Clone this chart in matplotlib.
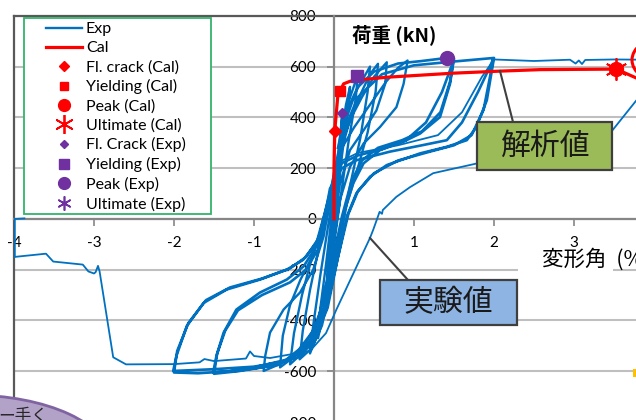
import matplotlib
matplotlib.use("Agg")
import matplotlib.pyplot as plt
from matplotlib.lines import Line2D
from matplotlib.patches import Rectangle, Ellipse

plt.rcParams['font.family'] = ['Lato', 'Noto Sans CJK JP', 'DejaVu Sans']

# ---------------- data ----------------
x_ticks = [-4, -3, -2, -1, 0, 1, 2, 3]
x_tick_labels = ["-4", "-3", "-2", "-1", "0", "1", "2", "3"]
y_ticks = [-800, -600, -400, -200, 0, 200, 400, 600, 800]
y_tick_labels = ["-800", "-600", "-400", "-200", "0", "200", "400", "600", "800"]

# Exp: small cycles
exp_small_x = [0, 0.03, 0.06, 0.1, 0.08, 0.04, 0.0, -0.05, -0.1, -0.08, -0.03, 0,
               0.05, 0.1, 0.15, 0.2, 0.17, 0.1, 0.03, -0.03, -0.1, -0.2, -0.17, -0.1, -0.04,
               0.03, 0.1, 0.18, 0.3, 0.27, 0.18, 0.08, 0, -0.1, -0.2, -0.3, -0.26, -0.17, -0.08,
               0.0, 0.08, 0.16, 0.28, 0.45, 0.42, 0.33, 0.2, 0.08, -0.05, -0.15, -0.28, -0.43, -0.39, -0.3, -0.2, -0.1,
               0.0, 0.1, 0.2, 0.33, 0.45, 0.55, 0.52, 0.42, 0.28, 0.12, 0.0, -0.12, -0.3, -0.55, -0.5, -0.4, -0.3, -0.18, -0.1,
               0.0, 0.1, 0.2, 0.35, 0.5, 0.66, 0.64, 0.53, 0.37, 0.2, 0.075, 0.0, -0.08, -0.2, -0.4, -0.675, -0.64, -0.55, -0.42, -0.26, -0.12,
               0.0, 0.1, 0.25, 0.45, 0.65, 0.8, 0.92, 0.87, 0.78, 0.575, 0.37, 0.2, 0.075, 0.0, -0.1, -0.26, -0.5, -0.7, -0.88, -0.86, -0.8, -0.63, -0.425, -0.26, -0.13, -0.06]
exp_small_y = [0, 150, 280, 400, 300, 100, -100, -250, -330, -200, -50, 20,
               200, 350, 450, 520, 420, 250, 50, -150, -330, -470, -350, -180, -20,
               150, 330, 460, 570, 470, 300, 80, -100, -320, -450, -530, -420, -220, -40,
               120, 280, 400, 506, 600, 500, 320, 130, -80, -280, -420, -510, -553, -440, -280, -130, 0,
               130, 280, 390, 490, 570, 611, 500, 340, 180, 20, -160, -360, -500, -573, -450, -300, -180, -60, 40,
               160, 300, 390, 480, 560, 617, 532, 427, 349, 271, 140, -20, -230, -400, -520, -585, -460, -340, -240, -140, 20,
               170, 280, 360, 450, 540, 595, 624, 532, 440, 362, 297, 205, 75, -80, -300, -440, -540, -575, -599, -540, -448, -357, -290, -200, -69, 60]

# Exp: large cycles (1.5 % and 2.0 %)
exp_large_x = [0.05, 0.15, 0.3, 0.5, 0.8, 1.1, 1.41, 1.5, 1.45, 1.325, 1.075, 0.86, 0.575, 0.37, 0.24, 0.11, 0.0, -0.1, -0.3, -0.6, -1.0, -1.3, -1.51, -1.47, -1.38, -1.22, -0.925, -0.59, -0.38, -0.22, -0.11,
               0.0, 0.1, 0.3, 0.6, 0.9, 1.15, 1.35, 1.49, 1.45, 1.33, 1.1, 0.85, 0.55, 0.35, 0.22, 0.1, -0.02, -0.15, -0.4, -0.8, -1.2, -1.5, -1.46, -1.36, -1.2, -0.9, -0.55, -0.35, -0.2, -0.1,
               0.0, 0.1, 0.3, 0.6, 1.0, 1.5, 2.0, 1.91, 1.78, 1.66, 1.41, 1.075, 0.66, 0.45, 0.28, 0.16, 0.05, -0.08, -0.25, -0.6, -1.0, -1.5, -2.01, -1.97, -1.84, -1.63, -1.34, -0.925, -0.59, -0.385, -0.22, -0.13,
               -0.05, 0.1, 0.28, 0.7, 1.1, 1.41, 1.6, 1.8, 1.95, 1.99, 1.95, 1.87, 1.72, 1.5, 1.2, 0.8, 0.5, 0.3, 0.18, 0.05, -0.1, -0.3, -0.7, -1.2, -1.7, -2.0, -1.96, -1.82, -1.6, -1.3, -0.9, -0.55, -0.35, -0.2, -0.1]
exp_large_y = [280, 420, 520, 580, 612, 622, 634, 631, 532, 401, 336, 303, 271, 219, 140, 8, -180, -330, -480, -555, -585, -600, -605, -540, -448, -357, -290, -239, -187, -108, -4,
               150, 220, 250, 275, 310, 380, 500, 620, 540, 420, 345, 310, 280, 230, 150, 10, -170, -400, -540, -580, -600, -610, -530, -440, -360, -300, -250, -200, -120, -10,
               180, 330, 480, 570, 605, 620, 634, 467, 362, 310, 284, 258, 212, 166, 101, 9, -150, -350, -480, -560, -582, -592, -599, -540, -422, -331, -278, -239, -200, -161, -95, -17,
               120, 200, 231, 265, 290, 310, 380, 500, 600, 630, 560, 430, 330, 290, 265, 230, 180, 110, 20, -150, -360, -500, -575, -598, -608, -605, -520, -410, -320, -270, -235, -195, -150, -80, 0]

# Exp: final excursion
exp_final_x = [0.0, 0.1, 0.3, 0.8, 1.3, 1.6, 1.85, 2.0, 2.5, 2.95, 3.02, 3.06, 3.1, 3.14, 3.5, 3.9, 4.3, 4.2,
               3.78, 3.45, 3.0, 2.4, 1.78, 1.24, 0.95, 0.78, 0.61, 0.6, 0.57, 0.55, 0.49, 0.45, 0.03, -0.1, -0.3,
               -0.8, -1.0, -1.05, -1.1, -1.5, -1.62, -1.68, -2.0, -2.6, -2.76, -2.93, -2.95, -2.98, -3.0, -3.07,
               -3.14, -3.51, -3.6, -3.97, -3.99, -3.99, -3.87]
exp_final_y = [150, 230, 260, 290, 330, 420, 560, 628, 622, 627, 612, 624, 610, 626, 628, 627, 610, 560,
               467, 337, 275, 236, 218, 180, 125, 87, 35, 20, 28, 10, -43, -75, -357, -450, -520,
               -548, -540, -522, -550, -560, -552, -565, -572, -573, -545, -207, -185, -210, -215, -207,
               -180, -168, -137, -149, -150, 0, 2]

# Cal
cal_x = [0, 0, 0.01, 0.05, 0.075, 0.12, 0.2, 0.33, 0.66, 1.49, 2.07, 2.58, 3.53, 3.8]
cal_y = [0, 200, 349, 493, 503, 532, 542, 548, 558, 574, 582, 588, 590, 552]

# key points
fl_crack_cal = (0.01, 345)
yield_cal = (0.075, 503)
peak_cal = (3.53, 590)
ult_cal = (3.53, 590)
fl_crack_exp = (0.096, 417)
yield_exp = (0.29, 564)
peak_exp = (1.41, 634)
ult_exp = (4.5, 560)   # outside visible range

# ---------------- figure ----------------
W, H = 636, 420
fig = plt.figure(figsize=(6.36, 4.2), dpi=100)
fig.patch.set_facecolor('white')

def fx(px):
    return px / W

def fy(py):
    return 1 - py / H

ax = fig.add_axes([fx(14), fy(422), 1 - fx(14), fy(15.8) - fy(422)])
ax.set_xlim(-4, 3.775)
ax.set_ylim(-800, 800)

for s in ['top', 'right']:
    ax.spines[s].set_visible(False)
ax.spines['left'].set_position(('data', 0))
ax.spines['bottom'].set_position(('data', 0))
for s in ['left', 'bottom']:
    ax.spines[s].set_color('#868686')
    ax.spines[s].set_linewidth(1.6)
    ax.spines[s].set_zorder(1.5)

ax.set_xticks(x_ticks)
ax.set_xticklabels(x_tick_labels)
ax.set_yticks(y_ticks)
ax.set_yticklabels(y_tick_labels)
ax.tick_params(axis='both', direction='out', length=5, width=1.2, color='#868686',
               labelsize=11, labelcolor='#000000')
ax.tick_params(axis='x', pad=7)
ax.tick_params(axis='y', pad=8)
ax.yaxis.grid(True, color='#BFBFBF', linewidth=1.5, zorder=0)
ax.set_axisbelow(True)

# frame lines (left edge at -4, top at 800)
ax.axvline(-4, color='#595959', lw=1.6, zorder=1, clip_on=False)
ax.axhline(800, color='#595959', lw=1.6, zorder=1, clip_on=False)

blue = '#0070C0'
red = '#FF0000'
purple = '#7030A0'
star = (6, 2, 0)

ax.plot(exp_small_x, exp_small_y, color=blue, lw=1.7, zorder=2, label='Exp')
ax.plot(exp_large_x, exp_large_y, color=blue, lw=1.9, zorder=2)
ax.plot(exp_final_x, exp_final_y, color=blue, lw=1.3, zorder=2)
ax.plot(cal_x, cal_y, color=red, lw=2.3, zorder=3, label='Cal')

ax.plot(*fl_crack_cal, ls='none', marker='D', ms=6, color=red, zorder=4, label='Fl. crack (Cal)')
ax.plot(*yield_cal, ls='none', marker='s', ms=7.5, color=red, zorder=4, label='Yielding (Cal)')
ax.plot(*peak_cal, ls='none', marker='o', ms=10, color=red, zorder=4, label='Peak (Cal)')
ax.plot(*ult_cal, ls='none', marker=star, ms=16, mew=1.3, color=red, zorder=4, label='Ultimate (Cal)')
ax.plot(*fl_crack_exp, ls='none', marker='D', ms=5, color=purple, zorder=4, label='Fl. Crack (Exp)')
ax.plot(*yield_exp, ls='none', marker='s', ms=8, color=purple, zorder=4, label='Yielding (Exp)')
ax.plot(*peak_exp, ls='none', marker='o', ms=10, color=purple, zorder=4, label='Peak (Exp)')
ax.plot(*ult_exp, ls='none', marker=star, ms=12, mew=1.2, color=purple, zorder=4, label='Ultimate (Exp)')

# axis titles
cjk = ['Noto Sans CJK JP', 'DejaVu Sans']
fig.text(fx(352), fy(35), '荷重 (kN)', family=cjk, fontsize=14, fontweight='bold',
         ha='left', va='center', zorder=6)
fig.patches.append(Rectangle((fx(518), fy(276)), fx(95), 27 / H, transform=fig.transFigure,
                             fc='white', ec='none', zorder=1))
fig.text(fx(542), fy(259), '変形角  (%)', family=cjk, fontsize=15.5, ha='left', va='center',
         zorder=6)

# legend frame drawn manually
fig.patches.append(Rectangle((fx(24), fy(214)), fx(211) - fx(24), fy(18) - fy(214),
                             transform=fig.transFigure, fc='white', ec='#33B36B', lw=1.3, zorder=1))
handles, labels = ax.get_legend_handles_labels()
leg = fig.legend(handles, labels, loc='upper left', bbox_to_anchor=(fx(46), fy(22)),
                 frameon=False, borderpad=0, borderaxespad=0, handlelength=2.25,
                 handletextpad=0.25, labelspacing=0.30, numpoints=1, markerscale=0.85,
                 prop={'family': 'Lato', 'size': 11.5})

# annotation boxes
def box(x0, y0, x1, y1, fc, text):
    fig.patches.append(Rectangle((fx(x0), fy(y1)), fx(x1) - fx(x0), fy(y0) - fy(y1),
                                 transform=fig.transFigure, fc=fc, ec='#3F3F3F', lw=1.6, zorder=2))
    fig.text(fx((x0 + x1) / 2), fy((y0 + y1) / 2), text, family=cjk, fontsize=21.5,
             ha='center', va='center', color='#1a1a1a', zorder=7)

fig.lines.append(Line2D([fx(500), fx(513)], [fy(71), fy(122)], transform=fig.transFigure,
                        color='#404040', lw=1.5, zorder=2))
fig.lines.append(Line2D([fx(370), fx(408)], [fy(238), fy(280)], transform=fig.transFigure,
                        color='#404040', lw=1.5, zorder=2))
box(477, 122, 612, 170, '#9BBB59', '解析値')
box(380, 280, 517, 325, '#8DB4E2', '実験値')

# other slide elements partially visible
fig.patches.append(Ellipse((fx(-30), fy(460)), fx(280), 130 / H, transform=fig.transFigure,
                           fc='#B3A2C7', ec='#8064A2', lw=2, zorder=2))
fig.text(fx(-2), fy(416), 'ー手く', family=cjk, fontsize=12, ha='left', va='center',
         color='#262626', zorder=7)
fig.patches.append(Ellipse((fx(662), fy(60)), fx(60), 44 / H, transform=fig.transFigure,
                           fc='none', ec=red, lw=2.2, zorder=2))
fig.patches.append(Rectangle((fx(633), fy(377)), fx(4), 8 / H, transform=fig.transFigure,
                             fc='#FFC000', ec='none', zorder=2))

fig.savefig('out.png', dpi=100)
